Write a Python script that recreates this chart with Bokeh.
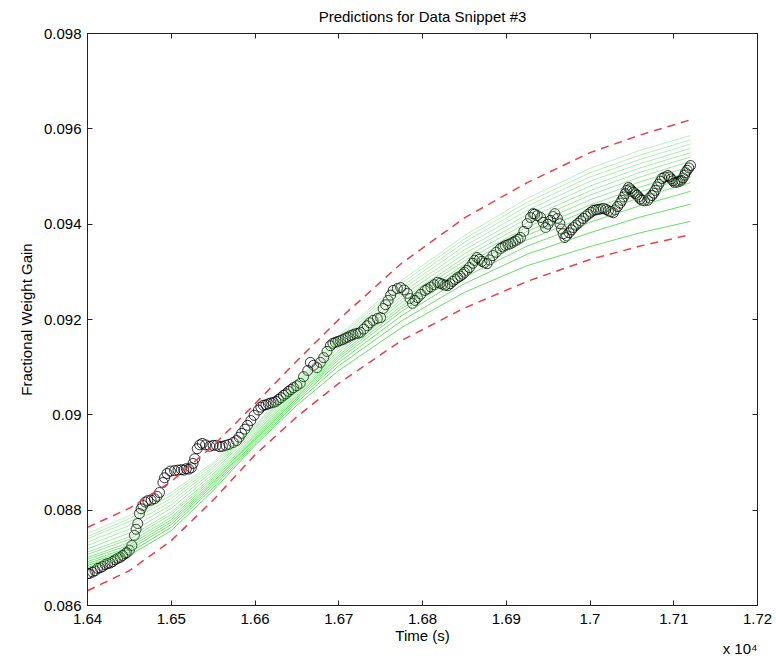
from bokeh.plotting import figure
from bokeh.models import (Range1d, FixedTicker, LinearAxis, Title, ColumnDataSource,
                          CustomLabelingPolicy)
from bokeh.embed import file_html
from bokeh.resources import INLINE

# ---------------- data ----------------
title_text = "Predictions for Data Snippet #3"
x_label = "Time (s)"
x_scale_note = "x 10\u2074"
y_label = "Fractional Weight Gain"
x_ticks = [1.64, 1.65, 1.66, 1.67, 1.68, 1.69, 1.7, 1.71, 1.72]
x_tick_labels = ["1.64", "1.65", "1.66", "1.67", "1.68", "1.69", "1.7", "1.71", "1.72"]
y_ticks = [0.086, 0.088, 0.09, 0.092, 0.094, 0.096, 0.098]
y_tick_labels = ["0.086", "0.088", "0.09", "0.092", "0.094", "0.096", "0.098"]

# measured data (time in s, fractional weight gain)
obs_time = [
    16400, 16402, 16406, 16409, 16412, 16415, 16418, 16421, 16424, 16427,
    16430, 16433, 16436, 16439, 16442, 16445, 16447, 16450, 16453, 16456,
    16458, 16460, 16462, 16464, 16466, 16469, 16472, 16476, 16480, 16483,
    16486, 16490, 16492, 16495, 16499, 16504, 16508, 16512, 16515, 16518,
    16521, 16524, 16526, 16528, 16531, 16534, 16537, 16541, 16546, 16550,
    16554, 16558, 16561, 16565, 16569, 16574, 16578, 16581, 16584, 16588,
    16591, 16595, 16599, 16604, 16607, 16610, 16613, 16616, 16619, 16622,
    16625, 16628, 16631, 16634, 16637, 16640, 16643, 16646, 16650, 16654,
    16658, 16663, 16666, 16670, 16674, 16678, 16682, 16686, 16690, 16693,
    16696, 16699, 16702, 16705, 16708, 16711, 16714, 16717, 16720, 16723,
    16726, 16730, 16734, 16737, 16741, 16746, 16750, 16753, 16756, 16759,
    16762, 16765, 16770, 16774, 16778, 16782, 16785, 16788, 16791, 16794,
    16798, 16803, 16806, 16810, 16814, 16818, 16821, 16824, 16827, 16830,
    16833, 16836, 16839, 16842, 16845, 16848, 16850, 16853, 16856, 16860,
    16862, 16865, 16868, 16871, 16874, 16877, 16880, 16884, 16888, 16893,
    16896, 16899, 16902, 16905, 16908, 16911, 16914, 16917, 16921, 16925,
    16929, 16932, 16934, 16937, 16941, 16944, 16947, 16950, 16953, 16956,
    16958, 16961, 16964, 16966, 16968, 16970, 16972, 16975, 16978, 16980,
    16983, 16986, 16989, 16992, 16995, 16998, 17001, 17004, 17007, 17010,
    17013, 17016, 17019, 17022, 17025, 17028, 17030, 17033, 17036, 17038,
    17040, 17042, 17044, 17046, 17048, 17050, 17052, 17054, 17056, 17058,
    17060, 17062, 17065, 17069, 17071, 17074, 17076, 17078, 17080, 17082,
    17084, 17086, 17089, 17093, 17095, 17097, 17099, 17101, 17103, 17105,
    17107, 17109, 17111, 17113, 17114, 17116, 17118, 17120]
obs_gain = [
    0.08667, 0.08667, 0.08670, 0.08673, 0.08678, 0.08679, 0.08682, 0.08686, 0.08688, 0.08689,
    0.08692, 0.08696, 0.08699, 0.08701, 0.08705, 0.08709, 0.08711, 0.08716, 0.08726, 0.08747,
    0.08760, 0.08772, 0.08793, 0.08803, 0.08810, 0.08817, 0.08820, 0.08821, 0.08824, 0.08829,
    0.08837, 0.08858, 0.08868, 0.08877, 0.08882, 0.08883, 0.08884, 0.08885, 0.08884, 0.08887,
    0.08886, 0.08889, 0.08898, 0.08908, 0.08929, 0.08937, 0.08940, 0.08937, 0.08934, 0.08936,
    0.08936, 0.08933, 0.08934, 0.08936, 0.08938, 0.08942, 0.08946, 0.08953, 0.08961, 0.08970,
    0.08978, 0.08988, 0.08999, 0.09010, 0.09016, 0.09020, 0.09021, 0.09023, 0.09025, 0.09026,
    0.09028, 0.09032, 0.09036, 0.09041, 0.09044, 0.09049, 0.09053, 0.09057, 0.09061, 0.09066,
    0.09080, 0.09093, 0.09110, 0.09104, 0.09099, 0.09110, 0.09120, 0.09133, 0.09145, 0.09150,
    0.09152, 0.09154, 0.09156, 0.09158, 0.09161, 0.09163, 0.09166, 0.09168, 0.09170, 0.09171,
    0.09173, 0.09180, 0.09187, 0.09193, 0.09198, 0.09202, 0.09204, 0.09223, 0.09231, 0.09240,
    0.09251, 0.09261, 0.09265, 0.09267, 0.09262, 0.09255, 0.09244, 0.09234, 0.09240, 0.09246,
    0.09253, 0.09261, 0.09264, 0.09268, 0.09273, 0.09278, 0.09276, 0.09274, 0.09272, 0.09271,
    0.09275, 0.09280, 0.09284, 0.09288, 0.09291, 0.09295, 0.09299, 0.09303, 0.09309, 0.09318,
    0.09324, 0.09330, 0.09326, 0.09322, 0.09319, 0.09317, 0.09325, 0.09334, 0.09341, 0.09349,
    0.09352, 0.09355, 0.09357, 0.09359, 0.09362, 0.09365, 0.09368, 0.09372, 0.09385, 0.09401,
    0.09414, 0.09422, 0.09421, 0.09418, 0.09414, 0.09404, 0.09393, 0.09400, 0.09408, 0.09416,
    0.09422, 0.09412, 0.09401, 0.09390, 0.09380, 0.09372, 0.09376, 0.09382, 0.09388, 0.09393,
    0.09398, 0.09402, 0.09407, 0.09412, 0.09417, 0.09421, 0.09425, 0.09429, 0.09430, 0.09431,
    0.09432, 0.09433, 0.09431, 0.09428, 0.09426, 0.09424, 0.09430, 0.09437, 0.09444, 0.09450,
    0.09457, 0.09464, 0.09471, 0.09477, 0.09474, 0.09470, 0.09467, 0.09464, 0.09461, 0.09457,
    0.09453, 0.09450, 0.09449, 0.09450, 0.09455, 0.09460, 0.09465, 0.09471, 0.09478, 0.09484,
    0.09490, 0.09496, 0.09499, 0.09502, 0.09499, 0.09495, 0.09491, 0.09487, 0.09488, 0.09489,
    0.09490, 0.09492, 0.09497, 0.09503, 0.09508, 0.09513, 0.09518, 0.09523]

# prediction curves sampled at these times (s)
pred_time = [16400, 16450, 16500, 16550, 16600, 16650, 16700, 16775, 16850, 16925, 17000, 17060, 17120]
pred_curves = [
    [0.08751, 0.08789, 0.08837, 0.08900, 0.08978, 0.09072, 0.09166, 0.09282, 0.09376, 0.09454, 0.09517, 0.09555, 0.09586],
    [0.08745, 0.08782, 0.08831, 0.08896, 0.08975, 0.09068, 0.09162, 0.09276, 0.09369, 0.09446, 0.09508, 0.09545, 0.09577],
    [0.08740, 0.08776, 0.08825, 0.08891, 0.08972, 0.09065, 0.09157, 0.09269, 0.09362, 0.09438, 0.09499, 0.09536, 0.09568],
    [0.08733, 0.08768, 0.08818, 0.08887, 0.08969, 0.09061, 0.09152, 0.09263, 0.09354, 0.09429, 0.09490, 0.09527, 0.09559],
    [0.08726, 0.08760, 0.08811, 0.08882, 0.08965, 0.09057, 0.09146, 0.09256, 0.09346, 0.09420, 0.09480, 0.09518, 0.09550],
    [0.08719, 0.08752, 0.08804, 0.08876, 0.08961, 0.09053, 0.09141, 0.09249, 0.09338, 0.09412, 0.09470, 0.09509, 0.09541],
    [0.08712, 0.08744, 0.08796, 0.08871, 0.08958, 0.09049, 0.09135, 0.09242, 0.09330, 0.09403, 0.09461, 0.09499, 0.09532],
    [0.08707, 0.08739, 0.08791, 0.08867, 0.08955, 0.09045, 0.09130, 0.09236, 0.09323, 0.09394, 0.09451, 0.09489, 0.09521],
    [0.08701, 0.08732, 0.08785, 0.08863, 0.08952, 0.09041, 0.09125, 0.09229, 0.09315, 0.09385, 0.09440, 0.09478, 0.09510],
    [0.08697, 0.08727, 0.08780, 0.08859, 0.08950, 0.09038, 0.09121, 0.09223, 0.09308, 0.09377, 0.09431, 0.09468, 0.09499],
    [0.08692, 0.08722, 0.08775, 0.08856, 0.08947, 0.09035, 0.09116, 0.09217, 0.09300, 0.09367, 0.09419, 0.09456, 0.09487],
    [0.08688, 0.08717, 0.08770, 0.08852, 0.08944, 0.09031, 0.09110, 0.09208, 0.09289, 0.09354, 0.09404, 0.09439, 0.09469],
    [0.08684, 0.08711, 0.08764, 0.08847, 0.08940, 0.09026, 0.09103, 0.09197, 0.09275, 0.09337, 0.09382, 0.09415, 0.09442],
    [0.08680, 0.08705, 0.08757, 0.08841, 0.08936, 0.09020, 0.09093, 0.09183, 0.09257, 0.09313, 0.09353, 0.09382, 0.09406],
]
pred_alpha = [0.35, 0.38, 0.4, 0.42, 0.45, 0.48, 0.5, 0.55, 0.6, 0.65, 0.7, 0.75, 0.8, 0.8]
bound_upper = [0.08764, 0.08804, 0.08860, 0.08935, 0.09023, 0.09113, 0.09200, 0.09318, 0.09413, 0.09487, 0.09550, 0.09587, 0.09619]
bound_lower = [0.08631, 0.08673, 0.08736, 0.08821, 0.08916, 0.08996, 0.09066, 0.09156, 0.09224, 0.09280, 0.09326, 0.09354, 0.09378]

SCALE = 1e4  # axis shown in units of 10^4 s
FONT = "Liberation Sans"

# ---------------- figure ----------------
p = figure(width=776, height=656, output_backend="svg", toolbar_location=None,
           x_range=Range1d(1.64, 1.72), y_range=Range1d(0.086, 0.098),
           min_border_left=87, min_border_right=19, min_border_top=33, min_border_bottom=51,
           title=title_text)
p.background_fill_color = "white"
p.border_fill_color = "white"
p.outline_line_color = "#222222"
p.outline_line_width = 1
p.grid.visible = False

p.title.text_font = FONT
p.title.text_font_size = "15px"
p.title.text_font_style = "normal"
p.title.align = "center"
p.title.vertical_align = "top"
p.title.text_color = "black"
p.title.standoff = 14

ox = [t / SCALE for t in obs_time]
p.scatter(ox, obs_gain, marker="circle", size=10, fill_color=None,
          line_color="black", line_alpha=0.8, line_width=1)

px_ = [t / SCALE for t in pred_time]
src = ColumnDataSource(dict(xs=[px_] * len(pred_curves), ys=pred_curves, a=pred_alpha))
p.multi_line("xs", "ys", source=src, line_color="#3cd83c", line_alpha="a", line_width=1)

p.line(px_, bound_upper, line_color="#e8404a", line_dash="8 6", line_width=1.5)
p.line(px_, bound_lower, line_color="#e8404a", line_dash="8 6", line_width=1.5)

# axes
xa = p.xaxis[0]
ya = p.yaxis[0]
xa.ticker = FixedTicker(ticks=x_ticks)
ya.ticker = FixedTicker(ticks=y_ticks)
xa.major_label_overrides = dict(zip(x_ticks, x_tick_labels))
ya.major_label_overrides = dict(zip(y_ticks, y_tick_labels))
xa.axis_label = x_label
ya.axis_label = y_label
for ax in (xa, ya):
    ax.major_tick_in = 5
    ax.major_tick_out = 0
    ax.minor_tick_line_color = None
    ax.axis_line_color = "#222222"
    ax.major_tick_line_color = "#222222"
    ax.major_label_text_font = FONT
    ax.major_label_text_font_size = "15px"
    ax.major_label_text_color = "black"
    ax.axis_label_text_font = FONT
    ax.axis_label_text_font_size = "15px"
    ax.axis_label_text_font_style = "normal"
    ax.axis_label_text_color = "black"
xa.major_label_standoff = 8
xa.axis_label_standoff = 0
ya.major_label_standoff = 6
ya.axis_label_standoff = 6

# tick marks on top and right edges (no labels)
no_labels = "for (const i of indices) indices.unset(i)"
top = LinearAxis(ticker=FixedTicker(ticks=x_ticks), major_label_text_font_size="0px",
                 major_label_standoff=0, major_label_policy=CustomLabelingPolicy(code=no_labels),
                 major_tick_in=5, major_tick_out=0, minor_tick_line_color=None,
                 axis_line_color="#222222", major_tick_line_color="#222222")
right = LinearAxis(ticker=FixedTicker(ticks=y_ticks), major_label_text_font_size="0px",
                   major_label_standoff=0, major_label_policy=CustomLabelingPolicy(code=no_labels),
                   major_tick_in=5, major_tick_out=0, minor_tick_line_color=None,
                   axis_line_color="#222222", major_tick_line_color="#222222")
p.add_layout(top, "above")
p.add_layout(right, "right")

# exponent note under the right end of the x axis
note = Title(text=x_scale_note, align="right", vertical_align="bottom", standoff=-18,
             text_font=FONT, text_font_size="15px", text_font_style="normal",
             text_color="black")
p.add_layout(note, "below")

open("out.html", "w").write(file_html(p, INLINE))
